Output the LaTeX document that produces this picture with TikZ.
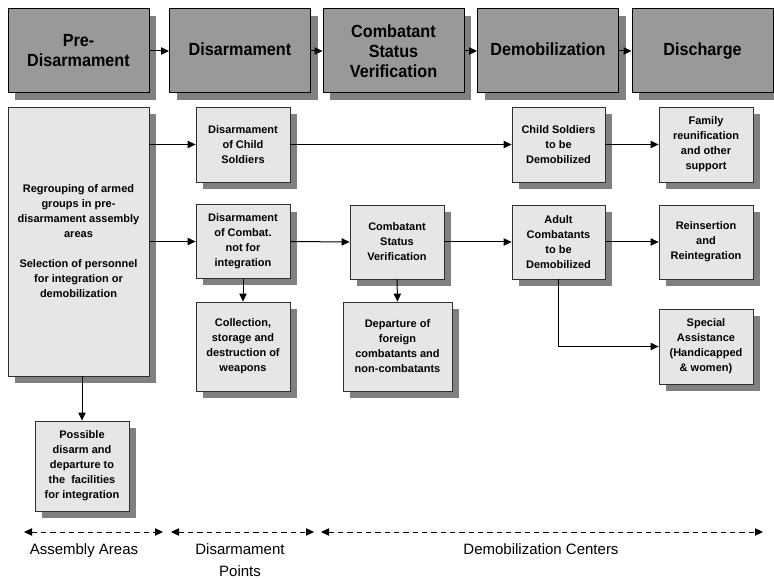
\documentclass[tikz,border=0pt]{standalone}
\usepackage{fontspec}
\setmainfont{Liberation Sans}
\newfontfamily\topfont{Liberation Sans}[FakeStretch=0.92]
\usetikzlibrary{arrows.meta,shadows}
\definecolor{topfill}{HTML}{999999}
\definecolor{shadowgray}{HTML}{808080}
\definecolor{boxfill}{HTML}{E6E6E6}
\definecolor{boxline}{HTML}{303030}
\begin{document}
\begin{tikzpicture}[x=0.75pt,y=-0.75pt,
  shadowed/.style={drop shadow={shadow xshift=5.4pt,shadow yshift=-5.4pt,fill=shadowgray,opacity=1}},
  topbox/.style={shadowed,draw=black,line width=0.75pt,fill=topfill,
    minimum width=105.75pt,minimum height=63pt,inner sep=0pt,align=center,
    font=\topfont\fontsize{13.2pt}{15pt}\selectfont\bfseries},
  oneline/.style={text height=9.6pt,text depth=2.2pt},
  subbox/.style={shadowed,draw=boxline,line width=0.6pt,fill=boxfill,
    minimum width=70.5pt,minimum height=56.25pt,inner sep=0pt,align=center,
    font=\fontsize{8.25pt}{11.25pt}\selectfont\bfseries},
  conn/.style={draw=black,line width=0.75pt,-{Triangle[length=6pt,width=5.5pt]}},
  span/.style={draw=black,line width=0.75pt,dash pattern=on 4pt off 3pt,
    {Triangle[length=6pt,width=5.5pt]}-{Triangle[length=6pt,width=5.5pt]}},
  zonelabel/.style={align=center,inner sep=0pt,font=\fontsize{11.25pt}{16.5pt}\selectfont}]
\useasboundingbox (0,0) rectangle (774,580);
% top row
\node[topbox] (pre) at (78.5,51) {Pre-\\Disarmament};
\node[topbox,oneline] (dis) at (240,51) {Disarmament};
\node[topbox] (csv) at (393.5,51) {Combatant\\Status\\Verification};
\node[topbox,oneline] (demob) at (548,51) {Demobilization};
\node[topbox,oneline] (disch) at (702.5,51) {Discharge};
\draw[conn] (pre.east) -- (dis.west);
\draw[conn] (dis.east) -- (csv.west);
\draw[conn] (csv.east) -- (demob.west);
\draw[conn] (demob.east) -- (disch.west);
% lower boxes
\node[subbox,minimum width=105.75pt,minimum height=201.75pt] (regroup) at (78.5,241.5)
  {Regrouping of armed\\groups in pre-\\disarmament assembly\\areas\\[11.25pt]Selection of personnel\\for integration or\\demobilization};
\node[subbox] (dchild) at (243,144.5) {Disarmament\\of Child\\Soldiers};
\node[subbox,minimum height=55pt] (dcombat) at (243,241.5) {Disarmament\\of Combat.\\not for\\integration};
\node[subbox,minimum height=66.75pt] (collect) at (243,346.5) {Collection,\\storage and\\destruction of\\weapons};
\node[subbox,minimum height=55.5pt] (csvtwo) at (397,242) {Combatant\\Status\\Verification};
\node[subbox,minimum width=81.75pt,minimum height=66.75pt] (depart) at (397.5,346.5) {Departure of\\foreign\\combatants and\\non-combatants};
\node[subbox,minimum width=69.75pt] (cdemob) at (558.5,144.5) {Child Soldiers\\to be\\Demobilized};
\node[subbox] (family) at (706,144.5) {Family\\reunification\\and other\\support};
\node[subbox,minimum width=69.75pt,minimum height=55.5pt] (adult) at (558.5,242) {Adult\\Combatants\\to be\\Demobilized};
\node[subbox,minimum height=55.5pt] (reins) at (706,242) {Reinsertion\\and\\Reintegration};
\node[subbox] (special) at (706,346.5) {Special\\Assistance\\(Handicapped\\\& women)};
\node[subbox,minimum height=67.5pt] (possible) at (82,466) {Possible\\disarm and\\departure to\\the\ \ facilities\\for integration};
% connectors
\draw[conn] (regroup.east |- dchild.west) -- (dchild.west);
\draw[conn] (regroup.east |- dcombat.west) -- (dcombat.west);
\draw[conn] (possible.north |- regroup.south) -- (possible.north);
\draw[conn] (dchild.east) -- (cdemob.west);
\draw[conn] (dcombat.south) -- (collect.north);
\draw[conn] (dcombat.east) -- (csvtwo.west);
\draw[conn] (csvtwo.south) -- (depart.north);
\draw[conn] (csvtwo.east) -- (adult.west);
\draw[conn] (cdemob.east) -- (family.west);
\draw[conn] (adult.east) -- (reins.west);
\draw[conn] (adult.south) |- (special.west);
% zones
\coordinate (aa1) at (24,532);
\coordinate (aa2) at (163,532);
\coordinate (dp1) at (171,532);
\coordinate (dp2) at (314,532);
\coordinate (dc1) at (321,532);
\coordinate (dc2) at (763,532);
\draw[span] (aa1) -- (aa2);
\draw[span] (dp1) -- (dp2);
\draw[span] (dc1) -- (dc2);
\node[zonelabel,anchor=north] (aalab) at (84,543) {Assembly Areas};
\node[zonelabel,anchor=north] (dplab) at (240,543) {Disarmament\\Points};
\node[zonelabel,anchor=north] (dclab) at (541,543) {Demobilization Centers};
\end{tikzpicture}
\end{document}
